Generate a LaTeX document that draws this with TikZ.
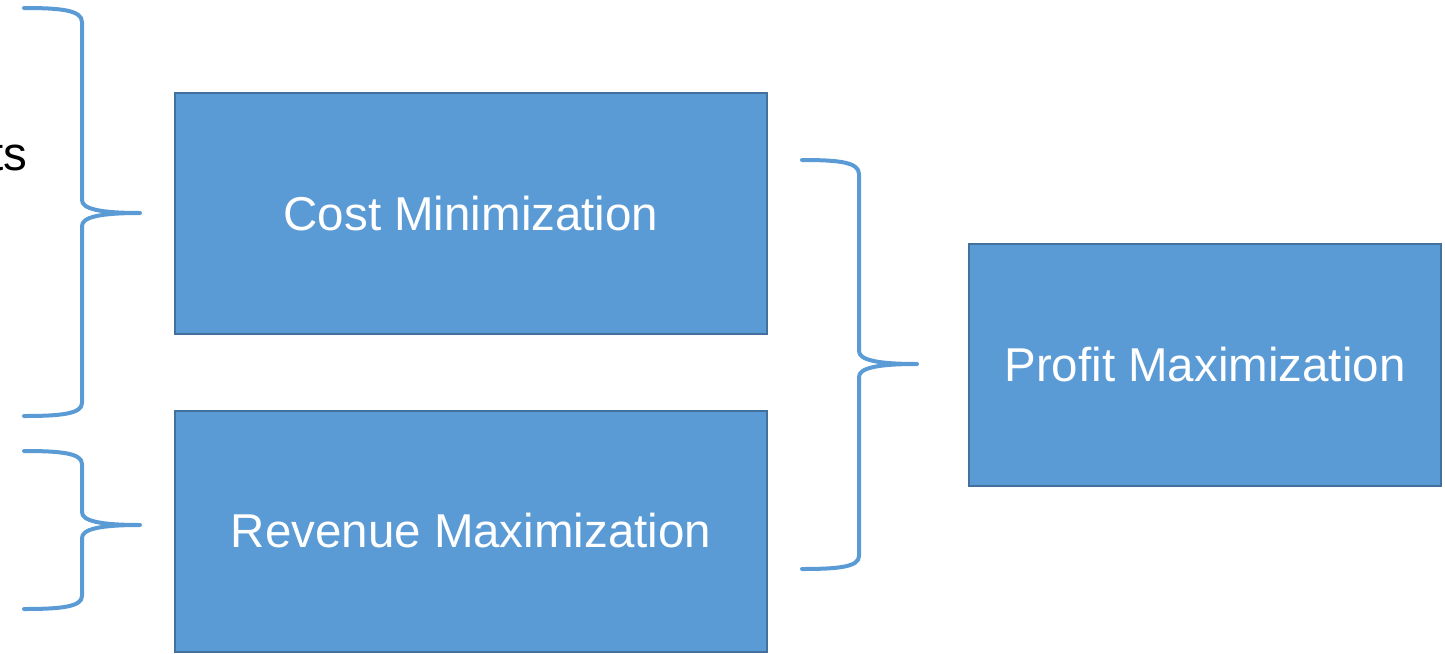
\documentclass[tikz,border=0pt]{standalone}
\usepackage{fontspec}
\setmainfont{Liberation Sans}
\definecolor{boxblue}{HTML}{5B9BD5}
\definecolor{boxedge}{HTML}{41719C}
\tikzset{
  goalbox/.style={rectangle, fill=boxblue, draw=boxedge, line width=1pt,
    minimum width=296pt, minimum height=120.5pt, text=white,
    font=\fontsize{23.75}{28}\selectfont, inner sep=0pt},
  bracket/.style={draw=boxblue, line width=2pt, line cap=round, line join=round}
}
\begin{document}
\begin{tikzpicture}[x=0.5pt,y=-0.5pt]
\useasboundingbox (0,0) rectangle (1445,653);
\node [anchor=base east, font=\fontsize{23.75}{28}\selectfont, inner sep=0pt] (cut) at (28,170) {ts};
\node [goalbox] (cost) at (471,213.5) {Cost Minimization};
\node [goalbox] (revenue) at (471,531) {Revenue Maximization};
\node [goalbox, minimum width=236pt, minimum height=121pt] (profit) at (1205,365) {Profit Maximization};
% braces
\draw [bracket] (24,8) .. controls (60,8) and (82,10) .. (82,22) -- (82,200)
  .. controls (82,209) and (100,213) .. (140,213)
  (140,213) .. controls (100,213) and (82,217) .. (82,226) -- (82,403)
  .. controls (82,414) and (60,416) .. (24,416);
\draw [bracket] (24,451) .. controls (60,451) and (82,453) .. (82,464) -- (82,512)
  .. controls (82,521) and (100,525) .. (140,525)
  (140,525) .. controls (100,525) and (82,529) .. (82,538) -- (82,596)
  .. controls (82,607) and (60,609) .. (24,609);
\draw [bracket] (802,160) .. controls (838,160) and (859,162) .. (859,174) -- (859,351)
  .. controls (859,360) and (877,364) .. (917,364)
  (917,364) .. controls (877,364) and (859,368) .. (859,377) -- (859,556)
  .. controls (859,567) and (838,569) .. (802,569);
\end{tikzpicture}
\end{document}
